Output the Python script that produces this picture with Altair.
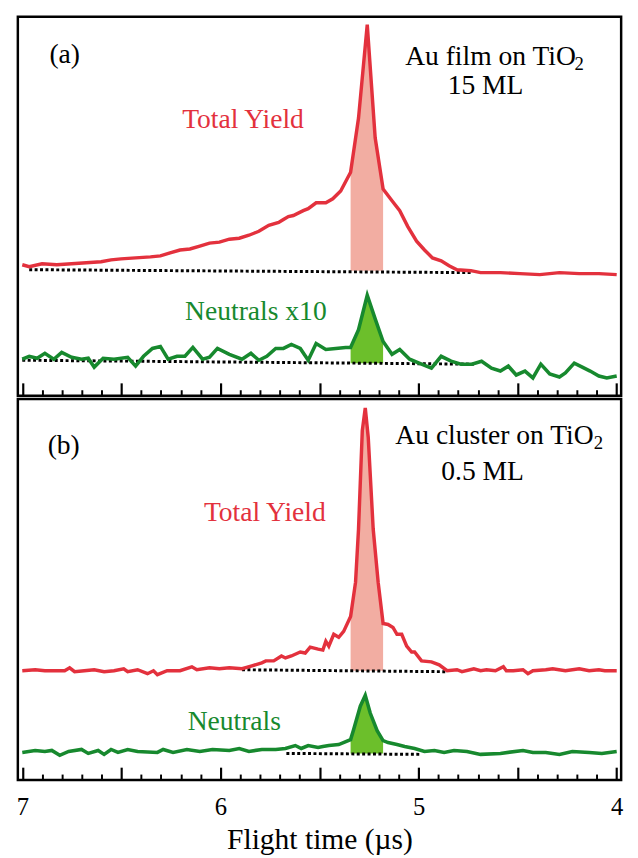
import altair as alt
import pandas as pd

FONT = "Liberation Serif"
RED = "#e3313d"
RED_FILL = "#f2ada2"
GREEN = "#17892e"
GREEN_FILL = "#6cbf2b"

# ---------------- panel (a): Au film on TiO2, 15 ML ----------------
A_RED_T = [7.000, 6.965, 6.900, 6.826, 6.751, 6.677, 6.602, 6.552, 6.502, 6.428,
           6.353, 6.303, 6.254, 6.204, 6.154, 6.104, 6.055, 6.005, 5.955, 5.905,
           5.856, 5.831, 5.806, 5.756, 5.706, 5.682, 5.657, 5.632, 5.582, 5.557,
           5.517, 5.468, 5.433, 5.393, 5.343, 5.303, 5.259, 5.219, 5.179, 5.134,
           5.095, 5.055, 5.010, 4.970, 4.930, 4.886, 4.846, 4.806, 4.736, 4.687,
           4.587, 4.488, 4.388, 4.289, 4.189, 4.090, 4.000]
A_RED_I = [133, 131, 134, 133, 134, 135, 136, 138, 139, 140,
           141, 142, 145, 148, 149, 152, 155, 156, 159, 160,
           163, 165, 167, 173, 176, 179, 182, 183, 188, 190,
           196, 196, 200, 208, 227, 282, 377, 262, 210, 198,
           188, 172, 157, 148, 140, 137, 132, 128, 127, 125,
           125, 124, 123, 125, 124, 124, 123]

A_GRN_T = [7.000, 6.965, 6.925, 6.886, 6.841, 6.801, 6.751, 6.701, 6.667, 6.637,
           6.592, 6.537, 6.468, 6.428, 6.388, 6.343, 6.303, 6.264, 6.219, 6.179,
           6.139, 6.090, 6.055, 6.015, 5.955, 5.891, 5.846, 5.806, 5.766, 5.721,
           5.682, 5.642, 5.597, 5.557, 5.517, 5.468, 5.418, 5.368, 5.343, 5.303,
           5.259, 5.219, 5.179, 5.134, 5.095, 5.045, 4.985, 4.935, 4.886, 4.836,
           4.786, 4.731, 4.682, 4.632, 4.587, 4.547, 4.507, 4.463, 4.423, 4.383,
           4.338, 4.289, 4.259, 4.214, 4.174, 4.134, 4.090, 4.050, 4.000]
A_GRN_I = [37, 40, 38, 43, 37, 44, 39, 37, 38, 29,
           38, 37, 39, 30, 40, 48, 50, 37, 40, 40,
           49, 37, 39, 48, 42, 37, 43, 36, 40, 48,
           48, 52, 48, 36, 53, 47, 48, 49, 49, 67,
           102, 78, 55, 42, 47, 37, 32, 28, 40, 35,
           32, 32, 35, 28, 25, 30, 21, 25, 18, 32,
           22, 19, 23, 33, 29, 25, 20, 18, 20]

A_RED_DOT_T = [6.965, 4.736]
A_RED_DOT_I = [128, 125]
A_GRN_DOT_T = [7.000, 4.721]
A_GRN_DOT_I = [36, 32]
A_RED_BASE = 127
A_GRN_BASE = 33

A_TEXT = ["(a)", "Total Yield", "Neutrals x10", "Au film on TiO", "2", "15 ML"]
A_TEXT_T = [6.786, 5.886, 5.821, 4.637, 4.190, 4.662]
A_TEXT_I = [338, 272, 77, 336, 331, 307]
A_TEXT_C = ["black", RED, GREEN, "black", "black", "black"]
A_TEXT_S = [28, 28, 28, 28, 19, 28]

# ---------------- panel (b): Au cluster on TiO2, 0.5 ML ----------------
B_RED_T = [7.000, 6.935, 6.886, 6.786, 6.761, 6.736, 6.687, 6.637, 6.587, 6.537,
           6.488, 6.468, 6.418, 6.368, 6.338, 6.318, 6.269, 6.204, 6.144, 6.119,
           6.055, 6.005, 5.955, 5.891, 5.841, 5.791, 5.771, 5.731, 5.692, 5.672,
           5.642, 5.597, 5.572, 5.547, 5.507, 5.483, 5.468, 5.453, 5.428, 5.403,
           5.378, 5.343, 5.318, 5.303, 5.284, 5.269, 5.254, 5.229, 5.204, 5.179,
           5.154, 5.129, 5.109, 5.085, 5.060, 5.035, 5.020, 4.985, 4.935, 4.896,
           4.856, 4.806, 4.781, 4.721, 4.687, 4.657, 4.612, 4.572, 4.557, 4.522,
           4.473, 4.448, 4.423, 4.358, 4.323, 4.259, 4.189, 4.139, 4.090, 4.060,
           4.000]
B_RED_I = [111, 112, 111, 111, 114, 110, 111, 112, 110, 111,
           113, 110, 112, 108, 111, 107, 111, 111, 115, 112,
           114, 113, 114, 113, 116, 119, 121, 121, 126, 124,
           126, 130, 129, 135, 133, 132, 141, 136, 148, 145,
           151, 166, 201, 255, 355, 378, 348, 255, 201, 159,
           158, 155, 148, 148, 136, 130, 130, 121, 120, 117,
           111, 112, 110, 113, 111, 112, 111, 115, 111, 111,
           112, 108, 111, 112, 113, 111, 113, 111, 112, 111,
           111]

B_GRN_T = [7.000, 6.935, 6.886, 6.851, 6.811, 6.766, 6.701, 6.667, 6.617, 6.587,
           6.552, 6.517, 6.468, 6.418, 6.318, 6.289, 6.239, 6.169, 6.104, 6.040,
           5.955, 5.905, 5.856, 5.791, 5.721, 5.672, 5.622, 5.592, 5.557, 5.507,
           5.483, 5.453, 5.403, 5.343, 5.328, 5.294, 5.269, 5.244, 5.209, 5.179,
           5.154, 5.109, 5.070, 5.020, 4.970, 4.920, 4.871, 4.821, 4.756, 4.687,
           4.587, 4.473, 4.423, 4.358, 4.289, 4.224, 4.139, 4.075, 4.000]
B_GRN_I = [28, 30, 29, 30, 25, 29, 31, 27, 30, 26,
           31, 28, 31, 29, 28, 31, 28, 31, 29, 31,
           30, 32, 29, 31, 31, 32, 35, 32, 35, 33,
           34, 35, 36, 41, 51, 75, 86, 68, 50, 40,
           38, 36, 34, 32, 29, 30, 28, 30, 29, 26,
           27, 30, 28, 28, 26, 29, 28, 27, 29]

B_RED_DOT_T = [5.891, 4.856]
B_RED_DOT_I = [112, 110]
B_GRN_DOT_T = [5.667, 4.985]
B_GRN_DOT_I = [27, 26]
B_RED_BASE = 111
B_GRN_BASE = 27

B_TEXT = ["(b)", "Total Yield", "Neutrals", "Au cluster on TiO", "2", "0.5 ML"]
B_TEXT_T = [6.791, 5.776, 5.930, 4.617, 4.092, 4.677]
B_TEXT_I = [331, 263, 51, 341, 336, 305]
B_TEXT_C = ["black", RED, GREEN, "black", "black", "black"]
B_TEXT_S = [28, 28, 28, 28, 19, 28]

# axis ticks: major every 0.5 us, minor every 0.1 us; labels at integers
MAJOR_TICKS = [7.0, 6.5, 6.0, 5.5, 5.0, 4.5, 4.0]
MINOR_TICKS = [6.9, 6.8, 6.7, 6.6, 6.4, 6.3, 6.2, 6.1,
               5.9, 5.8, 5.7, 5.6, 5.4, 5.3, 5.2, 5.1,
               4.9, 4.8, 4.7, 4.6, 4.4, 4.3, 4.2, 4.1]
TICK_LABELS = [7, 6, 5, 4]
X_DOMAIN = [3.9776, 7.0224]
FILL_RANGE = [5.17, 5.35]

WIDTH = 613


def tick_axis(values, size, width, height):
    return alt.Axis(orient="top", offset=-height, labels=False, domain=False,
                    grid=False, title=None, values=values, tickColor="black",
                    tickWidth=width, tickSize=size)


def panel(red_t, red_i, grn_t, grn_i, red_dot_t, red_dot_i, grn_dot_t, grn_dot_i,
          red_base, grn_base, txt, txt_t, txt_i, txt_c, txt_s, height, label_axis):
    xs = alt.Scale(domain=X_DOMAIN, reverse=True, nice=False, zero=False)
    ys = alt.Scale(domain=[0, height], nice=False, zero=False)
    red = pd.DataFrame({"t": red_t, "I": red_i})
    grn = pd.DataFrame({"t": grn_t, "I": grn_i})
    rdot = pd.DataFrame({"t": red_dot_t, "I": red_dot_i})
    gdot = pd.DataFrame({"t": grn_dot_t, "I": grn_dot_i})
    tx = pd.DataFrame({"t": txt_t, "I": txt_i, "label": txt, "c": txt_c, "s": txt_s})

    red_fill = alt.Chart(red).transform_filter(
        alt.FieldRangePredicate(field="t", range=FILL_RANGE)
    ).mark_area(color=RED_FILL, opacity=1).encode(
        x=alt.X("t:Q", scale=xs, axis=tick_axis(MAJOR_TICKS, 13, 2.2, height)),
        y=alt.Y("I:Q", scale=ys, axis=None),
        y2=alt.datum(red_base),
    )
    grn_fill = alt.Chart(grn).transform_filter(
        alt.FieldRangePredicate(field="t", range=FILL_RANGE)
    ).mark_area(color=GREEN_FILL, opacity=1).encode(
        x=alt.X("t:Q", scale=xs, axis=tick_axis(MINOR_TICKS, 6, 2.0, height)),
        y=alt.Y("I:Q", scale=ys, axis=None),
        y2=alt.datum(grn_base),
    )
    dots = []
    for d in (rdot, gdot):
        dots.append(alt.Chart(d).mark_line(color="black", strokeWidth=3,
                                           strokeDash=[3, 2.5]).encode(
            x=alt.X("t:Q", scale=xs, axis=None),
            y=alt.Y("I:Q", scale=ys, axis=None),
        ))
    red_line = alt.Chart(red).mark_line(color=RED, strokeWidth=3.5).encode(
        x=alt.X("t:Q", scale=xs, axis=None),
        y=alt.Y("I:Q", scale=ys, axis=None),
    )
    grn_line = alt.Chart(grn).mark_line(color=GREEN, strokeWidth=3.6).encode(
        x=alt.X("t:Q", scale=xs, axis=label_axis),
        y=alt.Y("I:Q", scale=ys, axis=None),
    )
    texts = alt.Chart(tx).mark_text(font=FONT, align="center",
                                    baseline="alphabetic").encode(
        x=alt.X("t:Q", scale=xs, axis=None),
        y=alt.Y("I:Q", scale=ys, axis=None),
        text="label:N",
        color=alt.Color("c:N", scale=None),
        size=alt.Size("s:Q", scale=None),
    )
    layer = alt.layer(red_fill, grn_fill, dots[0], dots[1], red_line, grn_line,
                      texts).resolve_axis(x="independent")
    return layer.properties(width=WIDTH, height=height)


bottom_axis = alt.Axis(
    orient="bottom", values=TICK_LABELS, ticks=False, tickSize=0, domain=False,
    grid=False, labelFont=FONT, labelFontSize=25, labelColor="black",
    labelPadding=15, labelFlush=False, format="d",
    title="Flight time (\u00b5s)", titleFont=FONT, titleFontSize=30,
    titleFontWeight="normal", titleColor="black", titlePadding=6,
)

pa = panel(A_RED_T, A_RED_I, A_GRN_T, A_GRN_I, A_RED_DOT_T, A_RED_DOT_I,
           A_GRN_DOT_T, A_GRN_DOT_I, A_RED_BASE, A_GRN_BASE,
           A_TEXT, A_TEXT_T, A_TEXT_I, A_TEXT_C, A_TEXT_S, 385, None)
pb = panel(B_RED_T, B_RED_I, B_GRN_T, B_GRN_I, B_RED_DOT_T, B_RED_DOT_I,
           B_GRN_DOT_T, B_GRN_DOT_I, B_RED_BASE, B_GRN_BASE,
           B_TEXT, B_TEXT_T, B_TEXT_I, B_TEXT_C, B_TEXT_S, 387, bottom_axis)

chart = alt.vconcat(pa, pb, spacing=-1.5).resolve_scale(
    x="independent", y="independent"
).properties(
    padding={"left": 6, "top": 0, "right": 5, "bottom": 2}
).configure_view(
    stroke="black", strokeWidth=2.5
).configure_axis(
    labelFont=FONT, titleFont=FONT
)

chart.save("out.html", embed_options={"renderer": "svg", "actions": False})
